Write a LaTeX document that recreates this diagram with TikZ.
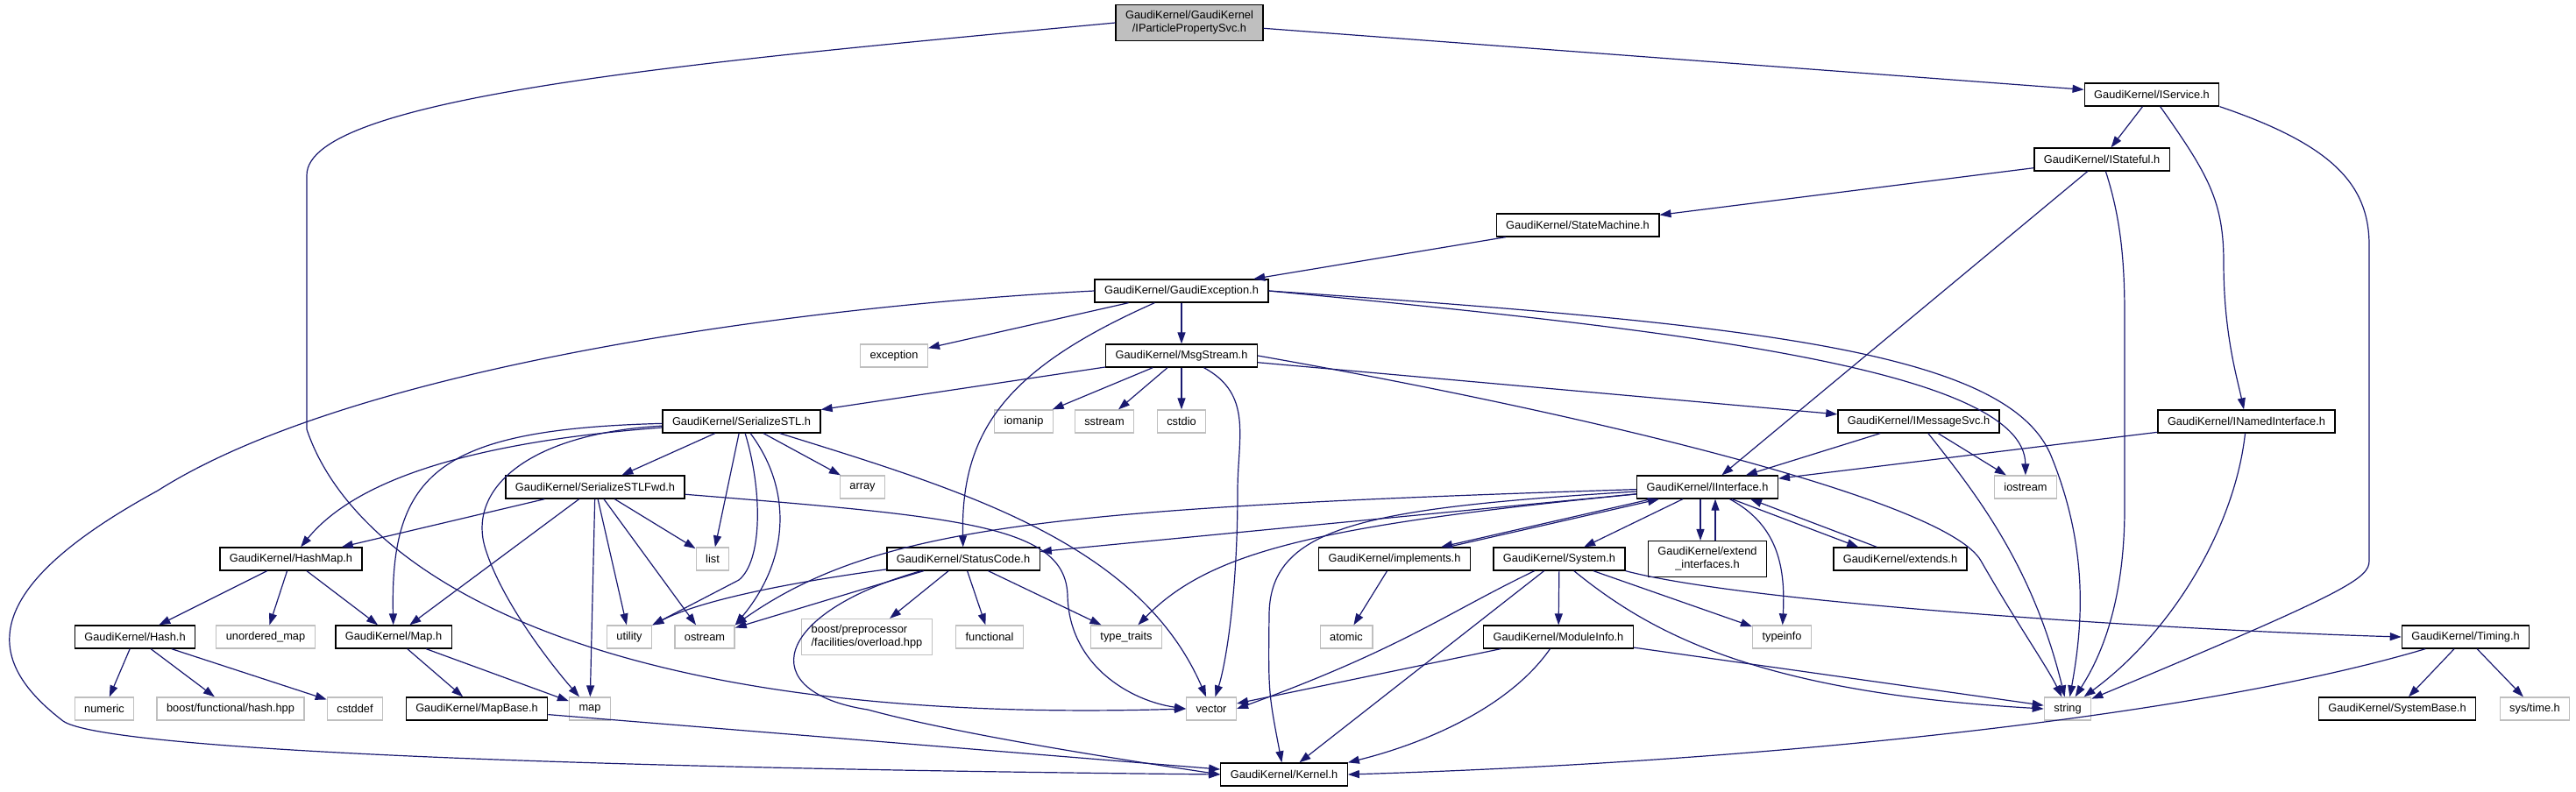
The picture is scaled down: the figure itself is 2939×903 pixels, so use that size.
\documentclass[tikz,border=0pt]{standalone}
\usepackage{fontspec}
\setmainfont{Liberation Sans}
\usetikzlibrary{arrows.meta}
\definecolor{edgeblue}{RGB}{25,25,112}
\definecolor{boxgray}{RGB}{191,191,191}

\begin{document}
\begin{tikzpicture}[x=1pt,y=-1pt,
    hdr/.style={draw=black,line width=1.3pt,fill=white,inner xsep=11pt,inner ysep=7pt,
      minimum height=26pt,align=center,font=\fontsize{12.8}{15}\selectfont},
    sys/.style={hdr,draw=boxgray},
    rootbox/.style={hdr,fill=boxgray},
    dep/.style={draw=edgeblue,line width=1.2pt,-{Triangle[length=13pt,width=9pt]}}]
  \useasboundingbox (0,0) rectangle (2939,903);
      %%row 0 to 5
      \node[rootbox] (root) at (1357,26) {GaudiKernel/GaudiKernel\\/IParticlePropertySvc.h};
      \node[hdr] (isvc) at (2455,108) {GaudiKernel/IService.h};
      \node[hdr] (istate) at (2398,182) {GaudiKernel/IStateful.h};
      \node[hdr] (smach) at (1800,257) {GaudiKernel/StateMachine.h};
      \node[hdr] (gexc) at (1348,332) {GaudiKernel/GaudiException.h};
      \node[sys] (exc) at (1020,406) {exception};
      \node[hdr] (msg) at (1348,406) {GaudiKernel/MsgStream.h};
      %%row 6
      \node[hdr] (sstl) at (846,481) {GaudiKernel/SerializeSTL.h};
      \node[sys] (iomanip) at (1168,481) {iomanip};
      \node[sys] (sstream) at (1260,481) {sstream};
      \node[sys] (cstdio) at (1348,481) {cstdio};
      \node[hdr] (imsg) at (2189,481) {GaudiKernel/IMessageSvc.h};
      \node[hdr] (inamed) at (2563,481) {GaudiKernel/INamedInterface.h};
      %%row 7
      \node[hdr] (sfwd) at (679,556) {GaudiKernel/SerializeSTLFwd.h};
      \node[sys] (array) at (984,556) {array};
      \node[hdr] (iiface) at (1948,556) {GaudiKernel/IInterface.h};
      \node[sys] (iostream) at (2311,556) {iostream};
      %%row 8
      \node[hdr] (hmap) at (332,638) {GaudiKernel/HashMap.h};
      \node[sys] (list) at (813,638) {list};
      \node[hdr] (scode) at (1099,638) {GaudiKernel/StatusCode.h};
      \node[hdr] (impl) at (1591,638) {GaudiKernel/implements.h};
      \node[hdr] (system) at (1779,638) {GaudiKernel/System.h};
      \node[hdr] (extif) at (1948,638) {GaudiKernel/extend\\\_interfaces.h};
      \node[hdr] (extends) at (2168,638) {GaudiKernel/extends.h};
      %%row 9
      \node[hdr] (hash) at (154,727) {GaudiKernel/Hash.h};
      \node[sys] (umap) at (303,727) {unordered\_map};
      \node[hdr] (mapH) at (449,727) {GaudiKernel/Map.h};
      \node[sys] (utility) at (718,727) {utility};
      \node[sys] (ostream) at (804,727) {ostream};
      \node[sys,align=left] (boostpp) at (989,727) {boost/preprocessor\\/facilities/overload.hpp};
      \node[sys] (functional) at (1129,727) {functional};
      \node[sys] (typetr) at (1285,727) {type\_traits};
      \node[sys] (atomic) at (1536,727) {atomic};
      \node[hdr] (modinfo) at (1778,727) {GaudiKernel/ModuleInfo.h};
      \node[sys] (typeinfo) at (2033,727) {typeinfo};
      \node[hdr] (timing) at (2813,727) {GaudiKernel/Timing.h};
      %%row 10
      \node[sys] (numeric) at (119,809) {numeric};
      \node[sys] (bhash) at (263,809) {boost/functional/hash.hpp};
      \node[sys] (cstddef) at (405,809) {cstddef};
      \node[hdr] (mapbase) at (544,809) {GaudiKernel/MapBase.h};
      \node[sys] (map) at (673,809) {map};
      \node[sys] (vector) at (1382,809) {vector};
      \node[sys] (string) at (2359,809) {string};
      \node[hdr] (sysbase) at (2735,809) {GaudiKernel/SystemBase.h};
      \node[sys] (systime) at (2892,809) {sys/time.h};
      %%row 11
      \node[hdr] (kernel) at (1465,884) {GaudiKernel/Kernel.h};

      %%IParticlePropertySvc.h
      \draw[dep] (root) -- (isvc);
      \draw[dep] (root.west) .. controls (800,70) and (350,110) .. (350,200) -- (350,490)
        .. controls (400,640) and (650,830) .. (vector.west);
      %%IService.h
      \draw[dep] (isvc) -- (istate);
      \draw[dep] (isvc) .. controls (2520,200) and (2537,230) .. (2537,300)
        .. controls (2537,380) and (2552,430) .. (inamed);
      \draw[dep] (isvc.south east) .. controls (2660,165) and (2703,210) .. (2703,280) -- (2703,640)
        .. controls (2703,660) and (2680,675) .. (string);
      %%IStateful.h
      \draw[dep] (istate) -- (smach);
      \draw[dep] (istate) -- (iiface);
      \draw[dep] (istate) .. controls (2420,250) and (2424,300) .. (2424,360) -- (2424,580)
        .. controls (2424,700) and (2390,760) .. (string);
      %%StateMachine.h
      \draw[dep] (smach) -- (gexc);
      %%GaudiException.h
      \draw[dep] (gexc) -- (exc);
      \draw[dep] (gexc) -- (msg);
      \draw[dep] (gexc) .. controls (1150,420) and (1096,490) .. (scode);
      \draw[dep] (gexc.west) .. controls (900,350) and (400,420) .. (180,560)
        .. controls (-40,680) and (-10,760) .. (72,823)
        .. controls (110,850) and (500,875) .. (kernel.west);
      \draw[dep] (gexc.east) .. controls (1900,375) and (2310,420) .. (iostream);
      \draw[dep] (gexc.east) .. controls (2000,370) and (2290,400) .. (2340,520)
        .. controls (2385,630) and (2375,720) .. (string);
      %%MsgStream.h
      \draw[dep] (msg) -- (sstl);
      \draw[dep] (msg) -- (iomanip);
      \draw[dep] (msg) -- (sstream);
      \draw[dep] (msg) -- (cstdio);
      \draw[dep] (msg) -- (imsg);
      \draw[dep] (msg) .. controls (1430,450) and (1412,500) .. (1412,560)
        .. controls (1412,680) and (1398,760) .. (vector);
      \draw[dep] (msg.east) .. controls (1800,470) and (2220,570) .. (2260,640)
        .. controls (2300,710) and (2335,760) .. (string);
      %%SerializeSTL.h
      \draw[dep] (sstl) -- (sfwd);
      \draw[dep] (sstl) -- (list);
      \draw[dep] (sstl) -- (array);
      \draw[dep] (sstl) .. controls (600,500) and (420,530) .. (hmap);
      \draw[dep] (sstl) .. controls (500,490) and (445,540) .. (mapH);
      \draw[dep] (sstl) .. controls (600,495) and (530,560) .. (555,630)
        .. controls (575,690) and (630,760) .. (map);
      \draw[dep] (sstl) .. controls (870,560) and (870,640) .. (843,662) -- (utility);
      \draw[dep] (sstl) .. controls (905,560) and (900,640) .. (ostream.north east);
      \draw[dep] (sstl) .. controls (1100,560) and (1300,620) .. (vector);
      %%SerializeSTLFwd.h
      \draw[dep] (sfwd) -- (hmap);
      \draw[dep] (sfwd) -- (mapH);
      \draw[dep] (sfwd) -- (map);
      \draw[dep] (sfwd) -- (utility);
      \draw[dep] (sfwd) -- (ostream);
      \draw[dep] (sfwd) -- (list);
      \draw[dep] (sfwd) .. controls (1100,590) and (1216,600) .. (1218,680)
        .. controls (1220,760) and (1290,800) .. (vector.west);
      %%HashMap.h
      \draw[dep] (hmap) -- (hash);
      \draw[dep] (hmap) -- (umap);
      \draw[dep] (hmap) -- (mapH);
      %%Hash.h
      \draw[dep] (hash) -- (numeric);
      \draw[dep] (hash) -- (bhash);
      \draw[dep] (hash) -- (cstddef);
      %%Map.h
      \draw[dep] (mapH) -- (mapbase);
      \draw[dep] (mapH) -- (map);
      \draw[dep] (mapbase) -- (kernel);
      %%StatusCode.h
      \draw[dep] (scode) .. controls (900,665) and (800,685) .. (utility);
      \draw[dep] (scode) -- (ostream);
      \draw[dep] (scode) -- (boostpp);
      \draw[dep] (scode) -- (functional);
      \draw[dep] (scode) -- (typetr);
      \draw[dep] (scode) .. controls (880,700) and (860,790) .. (990,810)
        .. controls (1100,840) and (1300,870) .. (kernel.west);
      %%IInterface.h
      \draw[dep] (iiface) -- (scode);
      \draw[dep] (iiface) .. controls (1200,580) and (1000,600) .. (ostream.north east);
      \draw[dep] (iiface) .. controls (1500,600) and (1380,630) .. (typetr);
      \draw[dep] (iiface) .. controls (1560,580) and (1450,600) .. (1448,700)
        .. controls (1447,790) .. (kernel);
      \draw[dep] ([xshift=17pt]iiface.south west) -- ([xshift=-34pt]impl.north east);
      \draw[dep] ([xshift=-26pt]impl.north east) -- ([xshift=26pt]iiface.south west);
      \draw[dep] (iiface) -- (system);
      \draw[dep] ([xshift=-8pt]iiface.south) -- ([xshift=-8pt]extif.north);
      \draw[dep] ([xshift=9pt]extif.north) -- ([xshift=9pt]iiface.south);
      \draw[dep] (iiface) .. controls (2030,600) and (2037,650) .. (typeinfo);
      \draw[dep] ([xshift=-53pt]iiface.south east) -- ([xshift=29pt]extends.north west);
      \draw[dep] ([xshift=50pt]extends.north west) -- ([xshift=-32pt]iiface.south east);
      %%implements.h
      \draw[dep] (impl) -- (atomic);
      %%System.h
      \draw[dep] (system) -- (modinfo);
      \draw[dep] (system) -- (typeinfo);
      \draw[dep] (system) -- (kernel);
      \draw[dep] (system) .. controls (1650,700) and (1600,740) .. (vector.east);
      \draw[dep] (system) .. controls (1880,720) and (2000,790) .. (string.west);
      \draw[dep] (system.south east) .. controls (2000,690) and (2500,720) .. (timing.west);
      %%ModuleInfo.h
      \draw[dep] (modinfo) -- (vector);
      \draw[dep] (modinfo) .. controls (1720,810) and (1620,850) .. (kernel.north east);
      \draw[dep] (modinfo) -- (string);
      %%Timing.h
      \draw[dep] (timing) -- (sysbase);
      \draw[dep] (timing) -- (systime);
      \draw[dep] (timing) .. controls (2500,820) and (2000,870) .. (kernel.east);
      %%IMessageSvc.h
      \draw[dep] (imsg) -- (iiface);
      \draw[dep] (imsg) -- (iostream);
      \draw[dep] (imsg) .. controls (2260,570) and (2320,650) .. (string);
      %%INamedInterface.h
      \draw[dep] (inamed) -- (iiface);
      \draw[dep] (inamed) .. controls (2550,600) and (2480,720) .. (string);
\end{tikzpicture}
\end{document}
